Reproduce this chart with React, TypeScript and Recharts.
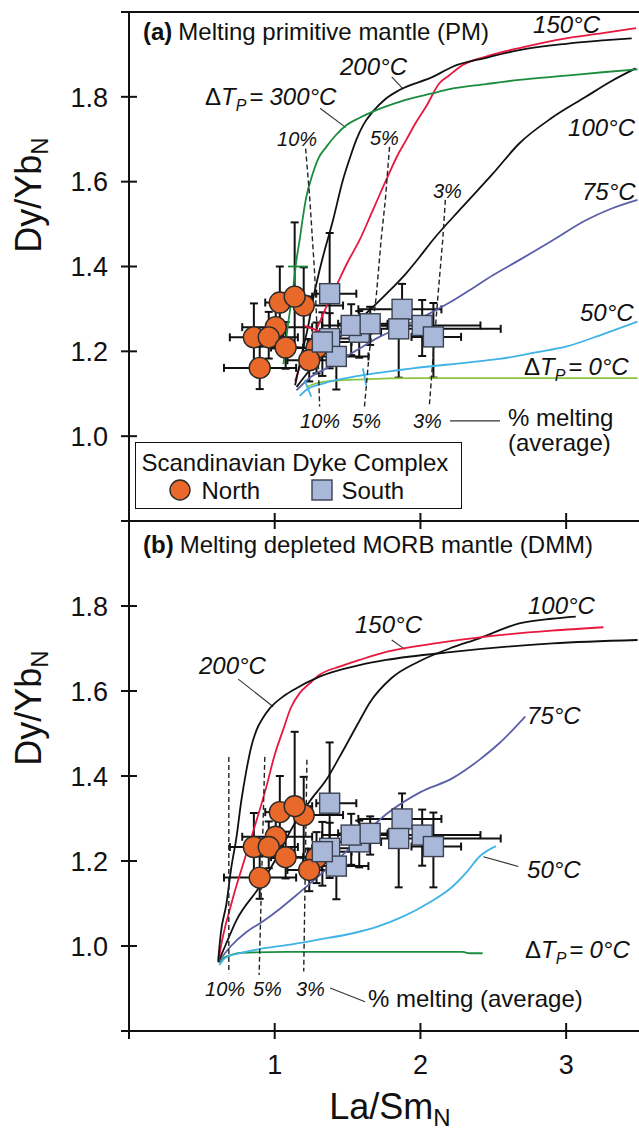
import React from 'react';
import {
  ComposedChart,
  Scatter,
  XAxis,
  YAxis,
  ErrorBar,
  ReferenceLine,
  ReferenceDot,
  Legend,
} from 'recharts';

const FONT = '"Liberation Sans", Arial, Helvetica, sans-serif';
const INK = '#111';
const ORANGE = '#e8692a';
const PERI = '#a9b8d9';
const RED = '#e8173d';
const DGREEN = '#1b8c3e';
const LGREEN = '#8cc63f';
const PURPLE = '#5b5fa8';
const SKY = '#3fb3e6';

// Scandinavian Dyke Complex samples (La/Sm_N, Dy/Yb_N, errors as [low, high])
const northX = [1.287, 1.199, 1.035, 1.137, 1.007, 0.857, 0.959, 1.075, 0.897, 1.237];
const northY = [1.208, 1.308, 1.315, 1.329, 1.257, 1.233, 1.233, 1.209, 1.161, 1.179];
const northXErr = [[0.2, 0.1], [0.2, 0.27], [0.1, 0.1], [0.12, 0.12], [0.23, 0.25], [0.165, 0.2], [0.12, 0.2], [0.1, 0.12], [0.245, 0.25], [0.15, 0.12]];
const northYErr = [[0.06, 0.06], [0.1, 0.09], [0.07, 0.085], [0.12, 0.175], [0.05, 0.05], [0.07, 0.08], [0.05, 0.06], [0.05, 0.06], [0.05, 0.05], [0.05, 0.05]];

const southX = [1.58, 1.377, 1.377, 1.525, 1.655, 1.874, 1.851, 2.012, 2.089, 1.423, 1.327];
const southY = [1.245, 1.23, 1.336, 1.261, 1.265, 1.299, 1.253, 1.261, 1.234, 1.188, 1.222];
const southXErr = [[0.15, 0.15], [0.12, 0.19], [0.092, 0.183], [0.2, 0.25], [0.22, 0.12], [0.3, 0.27], [0.35, 0.7], [0.3, 0.4], [0.15, 0.19], [0.1, 0.22], [0.1, 0.2]];
const southYErr = [[0.06, 0.05], [0.07, 0.06], [0.13, 0.143], [0.07, 0.05], [0.05, 0.04], [0.06, 0.06], [0.115, 0.05], [0.072, 0.06], [0.096, 0.08], [0.078, 0.06], [0.08, 0.07]];

// (a) melting primitive mantle, model curves [La/Sm_N, Dy/Yb_N]
const pm300 = [[1.06, 1.17], [1.09, 1.26], [1.125, 1.344], [1.149, 1.415], [1.171, 1.462], [1.195, 1.52], [1.217, 1.564], [1.262, 1.62], [1.3, 1.655], [1.354, 1.682], [1.42, 1.71], [1.491, 1.733], [1.58, 1.75], [1.673, 1.765], [1.856, 1.788], [2.08, 1.808], [2.2, 1.818], [2.45, 1.83], [2.678, 1.84], [3.0, 1.85], [3.25, 1.858], [3.49, 1.865]];
const pm200 = [[1.14, 1.12], [1.19, 1.2], [1.23, 1.26], [1.262, 1.321], [1.3, 1.38], [1.331, 1.423], [1.4, 1.509], [1.468, 1.604], [1.52, 1.66], [1.559, 1.698], [1.61, 1.735], [1.673, 1.765], [1.76, 1.795], [1.856, 1.816], [2.084, 1.847], [2.221, 1.871], [2.45, 1.892], [2.678, 1.91], [3.0, 1.925], [3.25, 1.933], [3.45, 1.938]];
const pm150 = [[1.14, 1.13], [1.2, 1.19], [1.274, 1.242], [1.354, 1.305], [1.422, 1.354], [1.5, 1.41], [1.582, 1.462], [1.67, 1.53], [1.765, 1.604], [1.84, 1.66], [1.902, 1.698], [1.97, 1.74], [2.039, 1.777], [2.13, 1.832], [2.199, 1.851], [2.29, 1.875], [2.45, 1.895], [2.678, 1.915], [3.0, 1.938], [3.25, 1.95], [3.48, 1.962]];
const pm100 = [[1.15, 1.116], [1.25, 1.16], [1.377, 1.211], [1.5, 1.25], [1.651, 1.297], [1.78, 1.34], [1.902, 1.384], [2.0, 1.425], [2.084, 1.462], [2.29, 1.541], [2.5, 1.62], [2.678, 1.69], [2.9, 1.75], [3.135, 1.8], [3.3, 1.835], [3.477, 1.867]];
const pm75 = [[1.149, 1.108], [1.25, 1.14], [1.377, 1.164], [1.55, 1.2], [1.719, 1.234], [1.9, 1.262], [2.062, 1.289], [2.2, 1.315], [2.336, 1.344], [2.5, 1.38], [2.678, 1.415], [2.9, 1.46], [3.135, 1.509], [3.3, 1.535], [3.49, 1.557]];
const pm50 = [[1.171, 1.095], [1.22, 1.11], [1.331, 1.124], [1.605, 1.144], [1.856, 1.156], [1.947, 1.16], [2.336, 1.174], [2.541, 1.182], [2.8, 1.198], [2.998, 1.211], [3.25, 1.24], [3.49, 1.27]];
const pm0 = [[1.217, 1.116], [1.27, 1.123], [1.331, 1.128], [1.605, 1.134], [1.947, 1.137], [2.5, 1.137], [3.49, 1.137]];
const pmMelt10 = [[1.212, 1.678], [1.24, 1.564], [1.274, 1.384], [1.297, 1.2], [1.308, 1.07]];
const pmMelt5 = [[1.788, 1.682], [1.76, 1.56], [1.73, 1.462], [1.697, 1.33], [1.65, 1.2], [1.616, 1.07]];
const pmMelt3 = [[2.171, 1.557], [2.153, 1.462], [2.12, 1.33], [2.09, 1.2], [2.062, 1.075]];
const pmMark300 = [[1.091, 1.4], [1.228, 1.4]];
const pmMark150 = [[1.205, 1.26], [1.342, 1.243]];
const pmMark50a = [[1.205, 1.132], [1.251, 1.093]];
const pmMark50b = [[1.605, 1.16], [1.628, 1.12]];

// (b) melting depleted MORB mantle
const dmm200 = [[0.612, 0.965], [0.63, 1.03], [0.669, 1.1], [0.7, 1.18], [0.738, 1.257], [0.77, 1.34], [0.806, 1.414], [0.84, 1.47], [0.875, 1.508], [0.92, 1.537], [0.966, 1.559], [1.05, 1.585], [1.125, 1.602], [1.308, 1.634], [1.582, 1.661], [1.765, 1.673], [2.221, 1.692], [2.906, 1.712], [3.49, 1.72]];
const dmm150 = [[0.615, 0.965], [0.623, 0.983], [0.703, 1.1], [0.806, 1.218], [0.943, 1.375], [1.0, 1.45], [1.057, 1.508], [1.11, 1.56], [1.171, 1.595], [1.24, 1.618], [1.308, 1.638], [1.45, 1.658], [1.582, 1.673], [1.765, 1.692], [2.1, 1.712], [2.449, 1.728], [2.9, 1.742], [3.256, 1.75]];
const dmm100 = [[0.612, 0.962], [0.66, 1.0], [0.738, 1.061], [0.897, 1.14], [1.0, 1.2], [1.125, 1.281], [1.25, 1.345], [1.354, 1.391], [1.445, 1.445], [1.582, 1.53], [1.651, 1.572], [1.8, 1.63], [1.993, 1.67], [2.2, 1.7], [2.404, 1.724], [2.678, 1.759], [2.9, 1.77], [3.066, 1.775]];
const dmm75 = [[0.612, 0.962], [0.7, 1.0], [0.806, 1.033], [0.92, 1.058], [1.034, 1.087], [1.15, 1.12], [1.262, 1.153], [1.38, 1.188], [1.491, 1.222], [1.765, 1.31], [2.0, 1.362], [2.221, 1.395], [2.404, 1.438], [2.541, 1.477], [2.719, 1.54]];
const dmm50 = [[0.62, 0.955], [0.66, 0.972], [0.76, 0.983], [0.9, 0.993], [1.08, 1.002], [1.3, 1.015], [1.536, 1.03], [1.7, 1.045], [1.879, 1.069], [2.05, 1.1], [2.221, 1.14], [2.32, 1.175], [2.404, 1.21], [2.518, 1.235]];
const dmm0 = [[0.623, 0.96], [0.65, 0.972], [0.692, 0.978], [0.76, 0.984], [1.08, 0.986], [2.29, 0.986], [2.336, 0.983], [2.427, 0.983]];
const dmmMelt10 = [[0.685, 1.445], [0.685, 0.936]];
const dmmMelt5 = [[0.932, 1.445], [0.893, 0.932]];
const dmmMelt3 = [[1.221, 1.438], [1.199, 0.94]];

const xTicks = [0, 1, 2, 3];
const yTicks = [0.8, 1.0, 1.2, 1.4, 1.6, 1.8, 2.0];

type Note = { x: number; y: number; text: string; kind: 'it' | 'pct' | 'plain' | 'dt' | 'title'; tag?: string };

const notesA: Note[] = [
  { x: 0.096, y: 1.934, kind: 'title', tag: '(a)', text: 'Melting primitive mantle (PM)' },
  { x: 2.773, y: 1.95, kind: 'it', text: '150°C' },
  { x: 1.448, y: 1.851, kind: 'it', text: '200°C' },
  { x: 0.522, y: 1.781, kind: 'dt', text: '300°C' },
  { x: 1.016, y: 1.684, kind: 'pct', text: '10%' },
  { x: 1.654, y: 1.686, kind: 'pct', text: '5%' },
  { x: 2.086, y: 1.562, kind: 'pct', text: '3%' },
  { x: 3.013, y: 1.708, kind: 'it', text: '100°C' },
  { x: 3.109, y: 1.557, kind: 'it', text: '75°C' },
  { x: 3.095, y: 1.272, kind: 'it', text: '50°C' },
  { x: 2.711, y: 1.144, kind: 'dt', text: '0°C' },
  { x: 1.174, y: 1.019, kind: 'pct', text: '10%' },
  { x: 1.531, y: 1.019, kind: 'pct', text: '5%' },
  { x: 1.949, y: 1.019, kind: 'pct', text: '3%' },
  { x: 2.601, y: 1.024, kind: 'plain', text: '% melting' },
  { x: 2.601, y: 0.964, kind: 'plain', text: '(average)' },
];
const leadersA = [
  [[1.311, 1.773], [1.487, 1.728]],
  [[1.803, 1.847], [1.882, 1.818]],
  [[2.203, 1.036], [2.546, 1.036]],
];

const notesB: Note[] = [
  { x: 0.096, y: 1.925, kind: 'title', tag: '(b)', text: 'Melting depleted MORB mantle (DMM)' },
  { x: 0.48, y: 1.64, kind: 'it', text: '200°C' },
  { x: 1.551, y: 1.736, kind: 'it', text: '150°C' },
  { x: 2.738, y: 1.781, kind: 'it', text: '100°C' },
  { x: 2.732, y: 1.522, kind: 'it', text: '75°C' },
  { x: 2.732, y: 1.16, kind: 'it', text: '50°C' },
  { x: 2.718, y: 0.972, kind: 'dt', text: '0°C' },
  { x: 0.522, y: 0.882, kind: 'pct', text: '10%' },
  { x: 0.851, y: 0.882, kind: 'pct', text: '5%' },
  { x: 1.146, y: 0.882, kind: 'pct', text: '3%' },
  { x: 1.64, y: 0.856, kind: 'plain', text: '% melting (average)' },
];
const leadersB = [
  [[0.75, 1.628], [0.99, 1.563]],
  [[1.803, 1.72], [1.894, 1.698]],
  [[2.432, 1.21], [2.672, 1.187]],
  [[1.38, 0.901], [1.62, 0.869]],
];

const north = northX.map((x, i) => ({ x, y: northY[i], ex: northXErr[i], ey: northYErr[i] }));
const south = southX.map((x, i) => ({ x, y: southY[i], ex: southXErr[i], ey: southYErr[i] }));
const toPts = (arr: number[][]) => arr.map(([x, y]) => ({ x, y }));

const curve = (key: string, pts: number[][], color: string, dashed = false) => (
  <Scatter
    key={key}
    data={toPts(pts)}
    fill="none"
    line={dashed ? { stroke: color, strokeWidth: 1.4, strokeDasharray: '5 3' } : { stroke: color, strokeWidth: 1.8 }}
    lineType="joint"
    lineJointType={dashed || pts.length < 3 ? 'linear' : 'monotoneX'}
    shape={() => <g />}
    legendType="none"
    isAnimationActive={false}
  />
);

const curvesA = [
  curve('a0', pm0, LGREEN),
  curve('a50', pm50, SKY),
  curve('a75', pm75, PURPLE),
  curve('a100', pm100, INK),
  curve('a150', pm150, RED),
  curve('a200', pm200, INK),
  curve('a300', pm300, DGREEN),
  curve('m300', pmMark300, DGREEN),
  curve('m150', pmMark150, RED),
  curve('m50a', pmMark50a, SKY),
  curve('m50b', pmMark50b, SKY),
  curve('i10', pmMelt10, '#222', true),
  curve('i5', pmMelt5, '#222', true),
  curve('i3', pmMelt3, '#222', true),
];
const curvesB = [
  curve('b0', dmm0, DGREEN),
  curve('b50', dmm50, SKY),
  curve('b75', dmm75, PURPLE),
  curve('b100', dmm100, INK),
  curve('b150', dmm150, RED),
  curve('b200', dmm200, INK),
  curve('j10', dmmMelt10, '#222', true),
  curve('j5', dmmMelt5, '#222', true),
  curve('j3', dmmMelt3, '#222', true),
];

const circleShape = (p: any) => <circle cx={p.cx} cy={p.cy} r={10.5} fill={ORANGE} stroke="#2a2a2a" strokeWidth={1.4} />;
const squareShape = (p: any) => (
  <rect x={p.cx - 10} y={p.cy - 10} width={20} height={20} fill={PERI} stroke="#3a4150" strokeWidth={1.4} />
);

const samples = () => [
  <Scatter key="north" name="North" data={north} fill={ORANGE} shape={circleShape} isAnimationActive={false}>
    <ErrorBar dataKey="ex" direction="x" width={4} stroke={INK} strokeWidth={2} />
    <ErrorBar dataKey="ey" direction="y" width={4} stroke={INK} strokeWidth={2} />
  </Scatter>,
  <Scatter key="south" name="South" data={south} fill={PERI} shape={squareShape} isAnimationActive={false}>
    <ErrorBar dataKey="ex" direction="x" width={4} stroke={INK} strokeWidth={2} />
    <ErrorBar dataKey="ey" direction="y" width={4} stroke={INK} strokeWidth={2} />
  </Scatter>,
];

function renderNote(p: any, n: Note) {
  const vb = p.viewBox || {};
  const x = (vb.x ?? 0) + (vb.width ?? 0) / 2;
  const y = (vb.y ?? 0) + (vb.height ?? 0) / 2;
  const base = { x, y, fill: INK, fontFamily: FONT };
  if (n.kind === 'title') {
    return (
      <text {...base} fontSize={24}>
        <tspan fontWeight="bold">{n.tag}</tspan>
        <tspan dx={6}>{n.text}</tspan>
      </text>
    );
  }
  if (n.kind === 'dt') {
    return (
      <text {...base} fontSize={24}>
        <tspan>Δ</tspan>
        <tspan fontStyle="italic">T</tspan>
        <tspan fontStyle="italic" fontSize={16} dy={6}>P</tspan>
        <tspan dy={-6} dx={3}>=</tspan>
        <tspan fontStyle="italic" dx={6}>{n.text}</tspan>
      </text>
    );
  }
  if (n.kind === 'pct') {
    return <text {...base} fontSize={20} fontStyle="italic">{n.text}</text>;
  }
  if (n.kind === 'plain') {
    return <text {...base} fontSize={24}>{n.text}</text>;
  }
  return <text {...base} fontSize={24} fontStyle="italic">{n.text}</text>;
}

const noteDots = (notes: Note[], prefix: string) =>
  notes.map((n, i) => (
    <ReferenceDot
      key={prefix + i}
      x={n.x}
      y={n.y}
      r={0}
      fill="none"
      stroke="none"
      label={{ content: (p: any) => renderNote(p, n) }}
    />
  ));

const leaderLines = (lines: number[][][], prefix: string) =>
  lines.map((l, i) => (
    <ReferenceLine
      key={prefix + i}
      segment={[{ x: l[0][0], y: l[0][1] }, { x: l[1][0], y: l[1][1] }]}
      stroke="#333"
      strokeWidth={1.1}
    />
  ));

function XTick(props: any) {
  const { x, y, payload, showLabel } = props;
  return (
    <g>
      <line x1={x} x2={x} y1={y - 8} y2={y + 8} stroke={INK} strokeWidth={2} />
      {showLabel && payload.value > 0 && (
        <text x={x} y={y + 43} textAnchor="middle" fontSize={27} fill={INK} fontFamily={FONT}>
          {payload.value}
        </text>
      )}
    </g>
  );
}

function YTick(props: any) {
  const { x, y, payload } = props;
  const v = payload.value;
  const showLabel = v > 0.9 && v < 1.9;
  return (
    <g>
      <line x1={x - 8} x2={x + 8} y1={y} y2={y} stroke={INK} strokeWidth={2} />
      {showLabel && (
        <text x={x - 21} y={y + 9.7} textAnchor="end" fontSize={27} fill={INK} fontFamily={FONT}>
          {v.toFixed(1)}
        </text>
      )}
    </g>
  );
}

const yTitle = (cy: number) => (p: any) => {
  const vb = p.viewBox || {};
  const x = (vb.x ?? 0) + 41;
  const y = (vb.y ?? 0) + cy;
  return (
    <text x={x} y={y} transform={`rotate(-90 ${x} ${y})`} textAnchor="middle" fontSize={36} fill={INK} fontFamily={FONT}>
      Dy/Yb<tspan fontSize={24} dy={7}>N</tspan>
    </text>
  );
};

const xTitle = (p: any) => {
  const vb = p.viewBox || {};
  const x = (vb.x ?? 0) + (vb.width ?? 0) / 2 + 6;
  const y = (vb.y ?? 0) + 88;
  return (
    <text x={x} y={y} textAnchor="middle" fontSize={36} fill={INK} fontFamily={FONT}>
      La/Sm<tspan fontSize={24} dy={7}>N</tspan>
    </text>
  );
};

function LegendBox(props: any) {
  const items = (props.payload || []).filter((e: any) => e.value === 'North' || e.value === 'South');
  return (
    <div
      style={{
        width: 327,
        height: 67,
        boxSizing: 'border-box',
        border: `1.5px solid ${INK}`,
        background: '#fff',
        position: 'relative',
        fontFamily: FONT,
        fontSize: 24,
        lineHeight: '24px',
        color: INK,
      }}
    >
      <div style={{ position: 'absolute', left: 5.5, top: 8, whiteSpace: 'nowrap' }}>Scandinavian Dyke Complex</div>
      {items.map((e: any, i: number) => {
        const left = i === 0 ? 33 : 175;
        return (
          <React.Fragment key={e.value}>
            <svg style={{ position: 'absolute', left, top: 36 }} width={22} height={22}>
              {e.value === 'North' ? (
                <circle cx={11} cy={11} r={10} fill={ORANGE} stroke="#2a2a2a" strokeWidth={1.4} />
              ) : (
                <rect x={1} y={1} width={20} height={20} fill={PERI} stroke="#3a4150" strokeWidth={1.4} />
              )}
            </svg>
            <div style={{ position: 'absolute', left: i === 0 ? 65.5 : 205.5, top: 36 }}>{e.value}</div>
          </React.Fragment>
        );
      })}
    </div>
  );
}

const axisLine = { stroke: INK, strokeWidth: 2 };

export default function App() {
  return (
    <div style={{ position: 'absolute', left: 0, top: 0, width: 639, height: 1130, background: '#fff', fontFamily: FONT }}>
      <div style={{ position: 'absolute', left: 0, top: 0 }}>
        <ComposedChart width={639} height={530} margin={{ top: 12, right: 0, bottom: 0, left: 0 }}>
          <XAxis
            type="number"
            dataKey="x"
            domain={[0, 3.5]}
            ticks={xTicks}
            interval={0}
            height={9}
            tickSize={0}
            tickMargin={0}
            tickLine={false}
            axisLine={axisLine}
            tick={(p: any) => <XTick {...p} showLabel={false} />}
            allowDataOverflow
          />
          <YAxis
            type="number"
            dataKey="y"
            domain={[0.8, 2.0]}
            ticks={yTicks}
            interval={0}
            width={129}
            tickSize={0}
            tickMargin={0}
            tickLine={false}
            axisLine={axisLine}
            tick={(p: any) => <YTick {...p} />}
            label={yTitle(183)}
            allowDataOverflow
          />
          <ReferenceLine y={2} stroke={INK} strokeWidth={2} />
          {curvesA}
          {leaderLines(leadersA, 'la')}
          {noteDots(notesA, 'na')}
          {samples()}
          <Legend
            layout="horizontal"
            verticalAlign="middle"
            align="center"
            content={(p: any) => <LegendBox {...p} />}
            wrapperStyle={{ left: 135, top: 442, width: 327, height: 67 }}
          />
        </ComposedChart>
      </div>
      <div style={{ position: 'absolute', left: 0, top: 511 }}>
        <ComposedChart width={639} height={619} margin={{ top: 10, right: 0, bottom: 0, left: 0 }}>
          <XAxis
            type="number"
            dataKey="x"
            domain={[0, 3.5]}
            ticks={xTicks}
            interval={0}
            height={99}
            tickSize={0}
            tickMargin={0}
            tickLine={false}
            axisLine={axisLine}
            tick={(p: any) => <XTick {...p} showLabel />}
            label={xTitle}
            allowDataOverflow
          />
          <YAxis
            type="number"
            dataKey="y"
            domain={[0.8, 2.0]}
            ticks={yTicks}
            interval={0}
            width={129}
            tickSize={0}
            tickMargin={0}
            tickLine={false}
            axisLine={axisLine}
            tick={(p: any) => <YTick {...p} />}
            label={yTitle(187)}
            allowDataOverflow
          />
          {curvesB}
          {leaderLines(leadersB, 'lb')}
          {noteDots(notesB, 'nb')}
          {samples()}
        </ComposedChart>
      </div>
    </div>
  );
}
